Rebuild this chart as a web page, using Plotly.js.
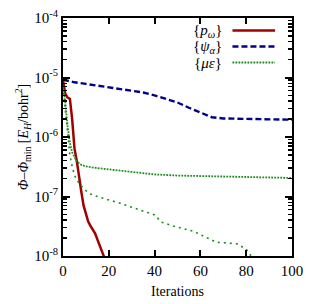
<!DOCTYPE html>
<html>
<head>
<meta charset="utf-8">
<script src="https://cdn.plot.ly/plotly-3.0.1.min.js"></script>
<style>html,body{margin:0;padding:0;background:#fff;}#chart{width:319px;height:304px;}</style>
</head>
<body>
<div id="chart"></div>
<script>
// Data
const redIter = [0, 1, 2, 3, 4, 5, 6, 7, 8, 9, 10, 11, 12, 13, 14, 15, 16, 17, 18, 19, 20];
const redVal = [9.0e-6, 5.3e-6, 4.6e-6, 4.4e-6, 2.0e-6, 6.5e-7, 4.0e-7, 2.0e-7, 1.2e-7, 7.0e-8, 5.0e-8, 3.8e-8, 3.2e-8, 2.8e-8, 2.4e-8, 1.9e-8, 1.5e-8, 1.2e-8, 1.0e-8, 8.0e-9, 6.0e-9];

const blueIter = [0, 5, 10, 16, 20, 25, 30, 35, 40, 45, 50, 55, 60, 63, 65, 70, 80, 90, 100];
const blueVal = [9.2e-6, 8.3e-6, 7.8e-6, 7.2e-6, 6.8e-6, 6.4e-6, 6.1e-6, 5.6e-6, 5.0e-6, 4.4e-6, 3.8e-6, 3.1e-6, 2.6e-6, 2.3e-6, 2.15e-6, 2.05e-6, 2.0e-6, 1.95e-6, 1.95e-6];

const greenAIter = [0, 1, 2, 3, 4, 5, 6, 8, 10, 15, 20, 30, 40, 50, 60, 70, 80, 90, 100];
const greenAVal = [7.0e-6, 4.0e-6, 1.5e-6, 8.0e-7, 5.5e-7, 4.5e-7, 3.9e-7, 3.4e-7, 3.2e-7, 3.0e-7, 2.85e-7, 2.6e-7, 2.35e-7, 2.25e-7, 2.2e-7, 2.15e-7, 2.1e-7, 2.05e-7, 2.05e-7];

const greenBIter = [0, 1, 2, 3, 4, 5, 6, 8, 10, 12, 15, 20, 25, 30, 35, 40, 43, 48, 57, 60, 64, 67, 72, 76, 80, 82, 83];
const greenBVal = [7.0e-6, 3.0e-6, 1.0e-6, 5.0e-7, 3.2e-7, 2.3e-7, 1.9e-7, 1.5e-7, 1.25e-7, 1.1e-7, 1.0e-7, 8.8e-8, 7.7e-8, 6.6e-8, 5.7e-8, 4.9e-8, 3.7e-8, 3.2e-8, 2.6e-8, 2.3e-8, 1.9e-8, 1.7e-8, 1.65e-8, 1.6e-8, 1.3e-8, 1.05e-8, 9.0e-9];

const xTicks = [0, 20, 40, 60, 80, 100];
const yTickVals = [1e-8, 1e-7, 1e-6, 1e-5, 1e-4];
const yTickText = ['10<sup>-8</sup>', '10<sup>-7</sup>', '10<sup>-6</sup>', '10<sup>-5</sup>', '10<sup>-4</sup>'];

const legendNames = ['{<i>p</i><sub><i>ω</i></sub>}', '{<i>ψ</i><sub><i>α</i></sub>}', '{<i>με</i>}'];

const red = '#a00000', blue = '#00008c', green = '#1e8c1e';
const serif = 'Liberation Serif, Times New Roman, serif';

const traces = [
  {x: redIter, y: redVal, mode: 'lines', line: {color: red, width: 2.5}, showlegend: false},
  {x: blueIter, y: blueVal, mode: 'lines', line: {color: blue, width: 2.4, dash: '6px,3px'}, showlegend: false},
  {x: greenAIter, y: greenAVal, mode: 'lines', line: {color: green, width: 1.8, dash: '1.8px,1.2px'}, showlegend: false},
  {x: greenBIter, y: greenBVal, mode: 'lines', line: {color: green, width: 1.6, dash: '2px,4px'}, showlegend: false}
];

const legY = [0.947, 0.880, 0.813];
const legStyles = [
  {color: red, width: 2.5, dash: 'solid'},
  {color: blue, width: 2.4, dash: '6px,3px'},
  {color: green, width: 1.8, dash: '1.8px,1.2px'}
];
const annotations = legendNames.map((t, i) => ({
  xref: 'paper', yref: 'paper', x: 0.70, y: legY[i], xanchor: 'right', yanchor: 'middle',
  text: t, showarrow: false, font: {family: serif, size: 15, color: '#000'},
  borderpad: 0
}));
const shapes = legStyles.map((s, i) => ({
  type: 'line', xref: 'paper', yref: 'paper', x0: 0.74, x1: 0.926, y0: legY[i], y1: legY[i],
  line: s
}));

const layout = {
  width: 319, height: 304,
  margin: {l: 63, r: 27, t: 18, b: 48},
  paper_bgcolor: '#fff', plot_bgcolor: '#fff',
  font: {family: serif, size: 14, color: '#000'},
  xaxis: {
    range: [0, 100], tickvals: xTicks, ticktext: xTicks.map(String),
    ticks: 'inside', ticklen: 6, tickwidth: 2, tickcolor: '#000',
    showline: true, linewidth: 2, linecolor: '#000', mirror: 'ticks',
    showgrid: false, zeroline: false,
    tickfont: {family: serif, size: 15},
    title: {text: 'Iterations', font: {family: serif, size: 14}, standoff: 8}
  },
  yaxis: {
    type: 'log', range: [-8, -4], tickvals: yTickVals, ticktext: yTickText,
    ticks: 'inside', ticklen: 7, tickwidth: 2, tickcolor: '#000',
    minor: {ticks: 'inside', ticklen: 4, tickwidth: 1.5, tickcolor: '#000', showgrid: false, dtick: 'D1'},
    showline: true, linewidth: 2, linecolor: '#000', mirror: 'ticks',
    showgrid: false, zeroline: false,
    tickfont: {family: serif, size: 15},
    title: {text: '<i>Φ</i>–<i>Φ</i><sub>min</sub> [<i>E<sub>H</sub></i>/bohr<sup>2</sup>]', font: {family: serif, size: 14}, standoff: 2}
  },
  annotations: annotations,
  shapes: shapes
};

Plotly.newPlot('chart', traces, layout, {staticPlot: true, displayModeBar: false});
</script>
</body>
</html>
